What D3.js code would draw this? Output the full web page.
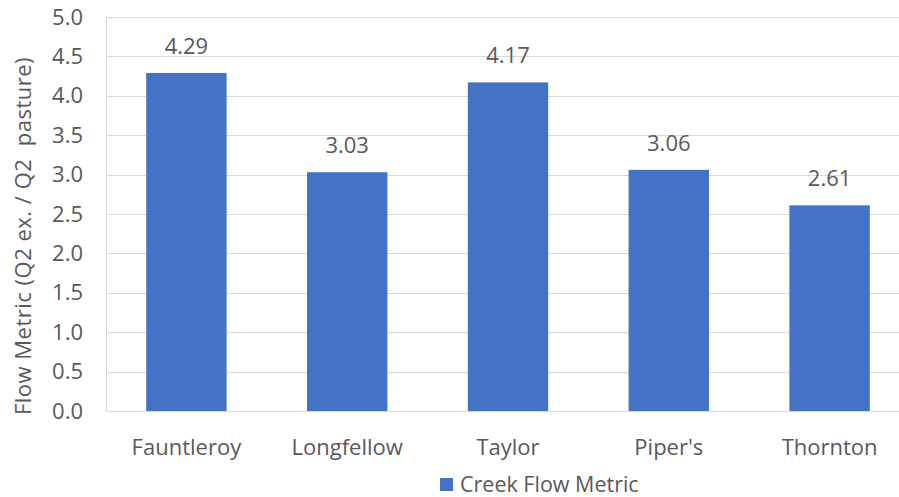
<!DOCTYPE html>
<html>
<head>
<meta charset="utf-8">
<script src="https://cdn.jsdelivr.net/npm/d3@7"></script>
<style>
  html, body { margin: 0; padding: 0; background: #fff; }
  svg { display: block; }
  text { font-family: "Open Sans", "Noto Sans", sans-serif; fill: #595959; }
</style>
</head>
<body>
<svg id="chart" width="899" height="497"></svg>
<script>
// Creek flow metric per site
const categories = ["Fauntleroy", "Longfellow", "Taylor", "Piper's", "Thornton"];
const flowValues = [4.29, 3.03, 4.17, 3.06, 2.61];
const yTicks = [0, 0.5, 1, 1.5, 2, 2.5, 3, 3.5, 4, 4.5, 5];
const seriesName = "Creek Flow Metric";
const yTitle = "Flow Metric (Q2 ex. / Q2  pasture)";

const svg = d3.select("#chart");
const margin = { left: 106, right: -11, top: 17, bottom: 86 };
const W = 899, H = 497;
const fontSize = 22;

const x = d3.scaleBand()
  .domain(categories)
  .range([margin.left, W - margin.right])
  .paddingInner(0.5)
  .paddingOuter(0.25);

const y = d3.scaleLinear()
  .domain([0, 5])
  .range([H - margin.bottom, margin.top]);

// horizontal gridlines
svg.append("g")
  .selectAll("line")
  .data(yTicks.filter(d => d > 0))
  .join("line")
  .attr("x1", margin.left)
  .attr("x2", W - margin.right)
  .attr("y1", d => Math.round(y(d)) + 0.5)
  .attr("y2", d => Math.round(y(d)) + 0.5)
  .attr("stroke", "#d9d9d9")
  .attr("stroke-width", 1);

// bars
svg.append("g")
  .selectAll("rect")
  .data(flowValues)
  .join("rect")
  .attr("x", (d, i) => x(categories[i]))
  .attr("width", x.bandwidth())
  .attr("y", d => y(d))
  .attr("height", d => y(0) - y(d))
  .attr("fill", "#4472c4");

// value labels
svg.append("g")
  .selectAll("text")
  .data(flowValues)
  .join("text")
  .attr("x", (d, i) => x(categories[i]) + x.bandwidth() / 2)
  .attr("y", d => y(d) - 19)
  .attr("text-anchor", "middle")
  .attr("font-size", fontSize)
  .text(d => d.toFixed(2));

// y axis
const yAxis = d3.axisLeft(y)
  .tickValues(yTicks)
  .tickFormat(d3.format(".1f"))
  .tickSize(0)
  .tickPadding(23);
const gy = svg.append("g")
  .attr("transform", `translate(${margin.left},0)`)
  .call(yAxis);
gy.select(".domain").attr("stroke", "#d9d9d9");
gy.selectAll("text")
  .attr("font-size", fontSize)
  .attr("fill", "#595959")
  .style("font-family", "'Open Sans', sans-serif");

// x axis
const xAxis = d3.axisBottom(x).tickSize(0).tickPadding(28);
const gx = svg.append("g")
  .attr("transform", `translate(0,${y(0)})`)
  .call(xAxis);
gx.select(".domain").attr("stroke", "#d9d9d9");
gx.selectAll("text")
  .attr("font-size", fontSize)
  .attr("fill", "#595959")
  .style("font-family", "'Open Sans', sans-serif");

// y axis title
svg.append("text")
  .attr("transform", "translate(31,236) rotate(-90)")
  .attr("text-anchor", "middle")
  .attr("font-size", fontSize)
  .attr("letter-spacing", 0.5)
  .style("white-space", "pre")
  .text(yTitle);

// legend
const legend = svg.append("g").attr("transform", "translate(440,478)");
legend.append("rect")
  .attr("width", 13).attr("height", 13)
  .attr("fill", "#4472c4");
legend.append("text")
  .attr("x", 20).attr("y", 14)
  .attr("font-size", 21.5)
  .text(seriesName);
</script>
</body>
</html>
